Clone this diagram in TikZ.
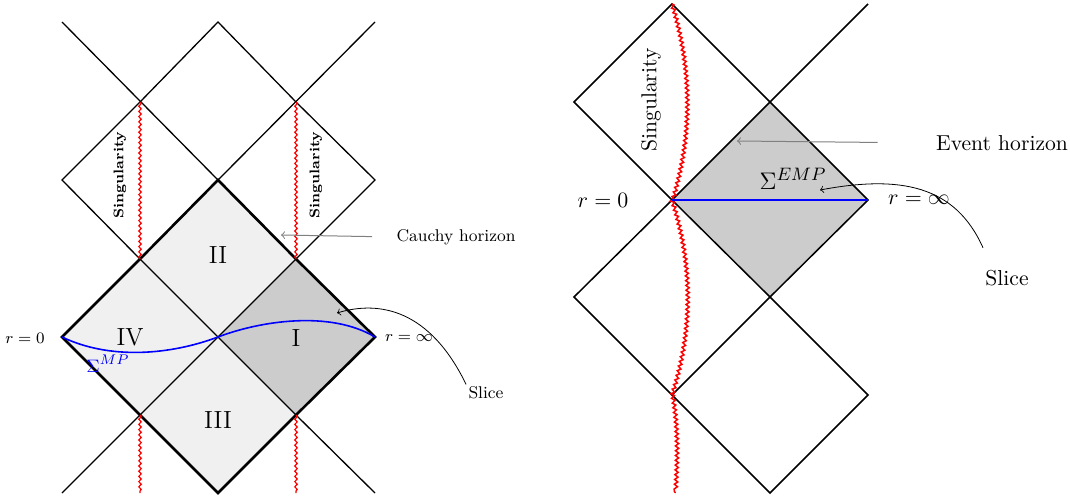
\documentclass[tikz,border=0pt]{standalone}
\usepackage{amsmath,amssymb}
\usepackage{xcolor}
\usepackage{tikz}
\usetikzlibrary{positioning,decorations.pathmorphing}

\begin{document}
\begin{tikzpicture}[x=0.5pt, y=-0.5pt, >=to,
  every node/.style={inner sep=1pt},
  edge/.style={line width=0.65pt},
  outer/.style={line width=1.3pt},
  sing/.style={red, line width=0.6pt, decorate, decoration={snake, amplitude=0.6pt, segment length=2.6pt}},
  slice/.style={blue, line width=0.8pt},
  horiz/.style={->, gray, line width=0.5pt},
  small/.style={font=\fontsize{8.5}{10}\selectfont},
  big/.style={font=\fontsize{10.8}{12}\selectfont},
  region/.style={font=\fontsize{12.4}{14}\selectfont}]
  \useasboundingbox (0,0) rectangle (1070,498);

  % left diagram
  \coordinate (L0) at (62,337);
  \coordinate (Linf) at (375,337);
  \coordinate (C) at (218,337);
  \coordinate (T) at (218,180);
  \coordinate (B) at (218,493);
  \coordinate (NW) at (140,259);
  \coordinate (NE) at (296,259);
  \coordinate (SW) at (140,415);
  \coordinate (SE) at (296,415);
  \coordinate (TT) at (218,22);
  \coordinate (TL) at (140,102);
  \coordinate (TR) at (296,102);
  \coordinate (LL) at (62,180);
  \coordinate (RR) at (375,180);
  \fill[black!6] (L0) -- (NW) -- (T) -- (NE) -- (C) -- (SE) -- (B) -- (SW) -- cycle;
  \fill[black!20] (C) -- (NE) -- (Linf) -- (SE) -- cycle;
  \draw[edge] (62,22) -- (T) -- (375,22);
  \draw[edge] (62,493) -- (SW);
  \draw[edge] (SE) -- (375,493);
  \draw[edge] (SW) -- (NE);
  \draw[edge] (NW) -- (SE);
  \draw[edge] (TL) -- (TT) -- (TR);
  \draw[edge] (TL) -- (LL) -- (NW);
  \draw[edge] (TR) -- (RR) -- (NE);
  \draw[outer] (L0) -- (NW) -- (T) -- (NE) -- (Linf) -- (SE) -- (B) -- (SW) -- cycle;
  \draw[sing] (TL) -- (NW);
  \draw[sing] (TR) -- (NE);
  \draw[sing] (SW) -- (140,493);
  \draw[sing] (SE) -- (296,493);
  \draw[slice] (L0) .. controls (110,360) and (170,355) .. (C)
    .. controls (260,321) and (330,310) .. (Linf);

  \node[small] (r0L) at (25,338) {$r=0$};
  \node[small] (rinfL) at (409,338) {$r=\infty$};
  \node[region] (IV) at (130,337) {IV};
  \node[region] (I) at (296,338) {I};
  \node[region] (II) at (218,255) {II};
  \node[region] (III) at (218,420) {III};
  \node[blue, font=\fontsize{9.5}{11}\selectfont] (sigMP) at (108,364) {$\Sigma^{MP}$};
  \node[rotate=90, font=\fontsize{7}{8}\selectfont\bfseries] (singL) at (120,175) {Singularity};
  \node[rotate=90, font=\fontsize{7}{8}\selectfont\bfseries] (singR) at (316,175) {Singularity};
  \node[small] (cauchy) at (456,237) {Cauchy horizon};
  \node[small] (sliceL) at (486,393) {Slice};
  \coordinate (chtip) at (281,235);
  \coordinate (sltipL) at (337,313);
  \draw[horiz, shorten <=11pt] (cauchy.west) -- (chtip);
  \draw[->, line width=0.4pt] (sliceL.north west) .. controls (430,310) and (380,300) .. (sltipL);

  % right diagram
  \coordinate (A0) at (672,200);
  \coordinate (Ainf) at (868,200);
  \coordinate (Atop) at (770,102);
  \coordinate (Abot) at (770,297);
  \coordinate (S0) at (672,4);
  \coordinate (Sl) at (574,102);
  \coordinate (Ex) at (868,4);
  \coordinate (Ml) at (574,297);
  \coordinate (Mb) at (672,395);
  \coordinate (Mr) at (868,395);
  \coordinate (Bb) at (770,493);
  \fill[black!20] (A0) -- (Atop) -- (Ainf) -- (Abot) -- cycle;
  \draw[edge, line width=0.75pt] (A0) -- (Sl) -- (S0) -- (Atop) -- (Ex);
  \draw[edge, line width=0.75pt] (A0) -- (Atop) -- (Ainf) -- (Abot) -- cycle;
  \draw[edge, line width=0.75pt] (A0) -- (Ml) -- (Mb) -- (Abot);
  \draw[edge, line width=0.75pt] (Mb) -- (Bb) -- (Mr) -- (Abot);
  \draw[sing, line width=0.75pt, decoration={amplitude=0.8pt, segment length=2.4pt}] (S0)
    .. controls (692,70) and (692,135) .. (A0)
    .. controls (693,265) and (693,330) .. (Mb)
    .. controls (678,430) and (677,460) .. (675,493);
  \draw[blue, line width=1pt] (A0) -- (Ainf);

  \node[big] (r0R) at (603,200) {$r=0$};
  \node[big] (rinfR) at (919,200) {$r=\infty$};
  \node[font=\fontsize{12.5}{14}\selectfont] (sigEMP) at (793,179) {$\Sigma^{EMP}$};
  \node[big, rotate=90] (singM) at (651,100) {Singularity};
  \node[big] (event) at (1002,143) {Event horizon};
  \node[big] (sliceR) at (1007,278) {Slice};
  \coordinate (ehtip) at (737,141);
  \coordinate (sltipR) at (820,190);
  \draw[horiz, shorten <=28pt] (event.west) -- (ehtip);
  \draw[->, line width=0.4pt] ([yshift=10pt]sliceR.north west) .. controls (955,185) and (900,175) .. (sltipR);
\end{tikzpicture}
\end{document}
